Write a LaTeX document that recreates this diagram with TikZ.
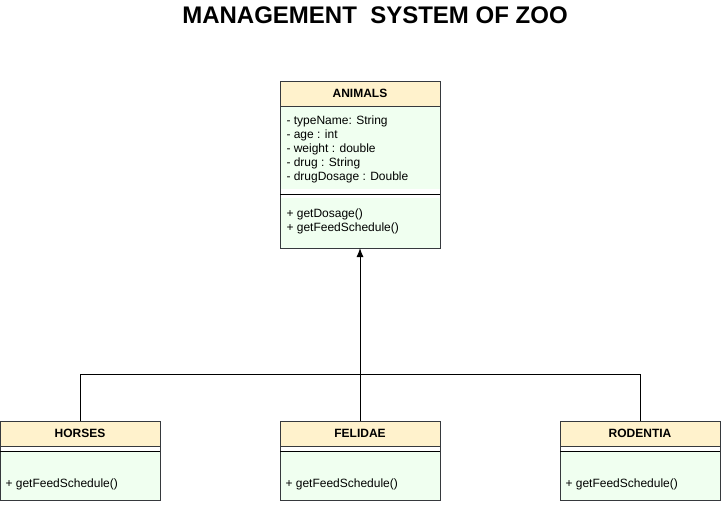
\documentclass[tikz,border=0pt]{standalone}
\usepackage{fontspec}
\setmainfont{Liberation Sans}
\usetikzlibrary{positioning,arrows.meta}

\definecolor{headfill}{HTML}{FFF2CC}
\definecolor{bodyfill}{HTML}{F0FFF0}
\definecolor{boxline}{HTML}{36393D}

\tikzset{
  classhead/.style={draw=boxline,fill=headfill,minimum width=160,minimum height=25,
    inner sep=0,outer sep=0,font=\fontsize{12}{14}\selectfont\bfseries},
  classbody/.style={fill=bodyfill,minimum width=160,inner sep=0,outer sep=0},
  gapband/.style={fill=white,minimum width=160,inner sep=0,outer sep=0},
  membertext/.style={anchor=north west,inner sep=0,align=left,font=\fontsize{12}{14}\selectfont},
}

\begin{document}
\begin{tikzpicture}[x=1pt,y=-1pt,line width=1pt]
\useasboundingbox (0,0) rectangle (721,504);
\node[font=\fontsize{24}{28}\selectfont\bfseries] (title) at (375,15.5) {MANAGEMENT\ \ SYSTEM OF ZOO};

% parent class
\node[classhead] (animals) at (360,93.5) {ANIMALS};
\node[classbody,minimum height=83,below=0pt of animals] (animals-attr) {};
\node[gapband,minimum height=9,below=0pt of animals-attr] (animals-gap) {};
\node[classbody,minimum height=50,below=0pt of animals-gap] (animals-meth) {};
\draw[boxline] (animals.north west) rectangle (animals-meth.south east);
\draw[boxline] (animals.south west) -- (animals.south east);
\draw ([yshift=-1]animals-gap.west) -- ([yshift=-1]animals-gap.east);
\node[membertext] (animals-attrtext) at ([shift={(6,9)}]animals-attr.north west)
  {- typeName: String\\- age : int\\- weight : double\\- drug : String\\- drugDosage : Double};
\node[membertext] (animals-methtext) at ([shift={(6,10)}]animals-meth.north west)
  {+ getDosage()\\+ getFeedSchedule()};

% subclasses
\foreach \name/\label/\x in {horses/HORSES/80,felidae/FELIDAE/360,rodentia/RODENTIA/640}{
  \node[classhead] (\name) at (\x,433.5) {\label};
  \node[gapband,minimum height=5,below=0pt of \name] (\name-gap) {};
  \node[classbody,minimum height=49,below=0pt of \name-gap] (\name-meth) {};
  \draw[boxline] (\name.north west) rectangle (\name-meth.south east);
  \draw[boxline] (\name.south west) -- (\name.south east);
  \draw (\name-gap.south west) -- (\name-gap.south east);
  \node[membertext] (\name-methtext) at ([shift={(5,27)}]\name-meth.north west) {+ getFeedSchedule()};
}

% inheritance
\coordinate (bar) at (360,374);
\draw (horses.north) -- (horses.north |- bar) -- (rodentia.north |- bar) -- (rodentia.north);
\draw[-{Latex[length=9,width=7]}] (felidae.north) -- (animals-meth.south);
\end{tikzpicture}
\end{document}
